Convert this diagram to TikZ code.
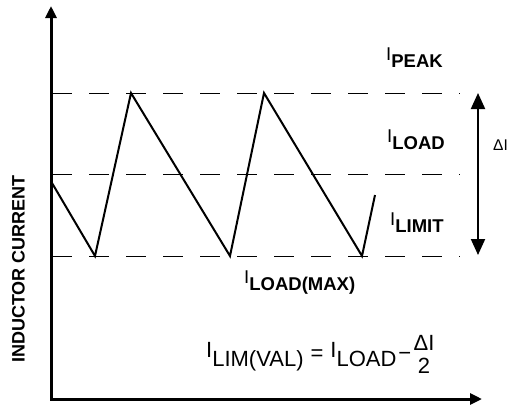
\documentclass[tikz,border=0pt]{standalone}
\usepackage{fontspec}
\setmainfont{Liberation Sans}
\usetikzlibrary{arrows.meta}
\tikzset{
  axis/.style={line width=3pt,{Triangle[length=12pt,width=11pt]}-{Triangle[length=12pt,width=11pt]}},
  level/.style={dash pattern=on 20pt off 17pt,line width=1pt},
  wave/.style={line width=2pt,line join=miter},
  span/.style={line width=2pt,{Triangle[length=16pt,width=14pt]}-{Triangle[length=16pt,width=14pt]}},
  lbl/.style={anchor=base west,inner sep=0pt,font=\fontsize{18.5}{20}\selectfont},
  eqn/.style={anchor=base west,inner sep=0pt,font=\fontsize{22}{24}\selectfont},
}
\newcommand{\isub}[1]{I\raisebox{-7pt}{\bfseries #1}}
\newcommand{\rsub}[1]{\raisebox{-9pt}{#1}}

\begin{document}
\begin{tikzpicture}[x=1pt,y=-1pt]
\useasboundingbox (0,0) rectangle (508,407);
% axes
\coordinate (ytop) at (51,6);
\coordinate (orig) at (51,399);
\coordinate (xend) at (482,399);
\draw[axis,line join=miter] (ytop) -- (orig) -- (xend);
\node[rotate=90,font=\fontsize{18}{20}\selectfont\bfseries,inner sep=0pt] (ylab) at (18.5,269) {INDUCTOR CURRENT};
% levels
\foreach \n/\y in {pk/93,ld/174,lm/256}{
  \coordinate (\n0) at (52,\y);
  \coordinate (\n1) at (460,\y);
  \draw[level] (\n0) -- (\n1);
}
% ripple current
\draw[wave] (52,183) -- (95,256) -- (131,93) -- (230,256) -- (264,93) -- (362,256) -- (375,195);
% delta I
\coordinate (dtop) at (478,93);
\coordinate (dbot) at (478,255);
\draw[span] (dtop) -- (dbot);
\node[anchor=base west,inner sep=0pt,font=\fontsize{15.5}{17}\selectfont] (dl) at (493,150) {ΔI};
% labels
\node[lbl] (peak) at (386,60) {\isub{PEAK}};
\node[lbl] (load) at (387,142) {\isub{LOAD}};
\node[lbl] (limit) at (390,225) {\isub{LIMIT}};
\node[lbl] (loadmax) at (244,283) {\isub{LOAD(MAX)}};
% formula
\node[eqn] (lim) at (206,357) {I\rsub{LIM(VAL)}\hspace{7pt}\raisebox{-3pt}{=}\hspace{7pt}I\rsub{LOAD}\hspace{2pt}\raisebox{-3pt}{−}};
\node[eqn,anchor=base] (num) at (424,350) {ΔI};
\node[eqn,anchor=base] (den) at (424,373) {2};
\end{tikzpicture}
\end{document}
